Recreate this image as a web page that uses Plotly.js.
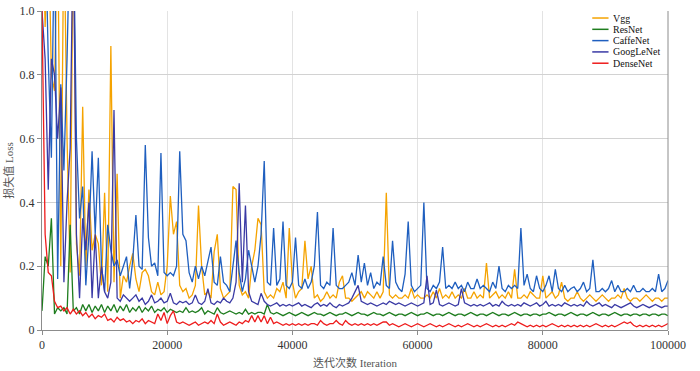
<!DOCTYPE html>
<html>
<head>
<meta charset="utf-8">
<script src="https://cdn.plot.ly/plotly-3.0.1.min.js"></script>
<style>html,body{margin:0;padding:0;background:#fff;}#chart{width:700px;height:371px;}</style>
</head>
<body>
<div id="chart"></div>
<script>
// ---- data ----
const STEP = 500;               // iteration spacing of the recorded losses
const seriesNames = ['Vgg', 'ResNet', 'CaffeNet', 'GoogLeNet', 'DenseNet'];
const seriesColors = ['#f5a300', '#1e7d1e', '#1f5fbf', '#3a3aa5', '#ee1c1c'];
const xTickVals = [0, 20000, 40000, 60000, 80000, 100000];
const xTickText = ['0', '20000', '40000', '60000', '80000', '100000'];
const yTickVals = [0, 0.2, 0.4, 0.6, 0.8, 1.0];
const yTickText = ['0', '0.2', '0.4', '0.6', '0.8', '1.0'];

const vgg = [
1.4,0.95,1.3,0.8,0.75,1.3,0.2,1.3,0.6,0.18,
1.3,0.27,0.17,0.70,0.2,0.44,0.25,0.3,0.27,0.14,
0.43,0.12,0.89,0.15,0.49,0.1,0.17,0.15,0.2,0.24,
0.16,0.12,0.18,0.19,0.17,0.12,0.11,0.15,0.11,0.12,
0.2,0.42,0.3,0.34,0.14,0.12,0.13,0.1,0.11,0.14,
0.39,0.2,0.11,0.12,0.1,0.245,0.3,0.13,0.1,0.11,
0.12,0.45,0.44,0.14,0.11,0.12,0.1,0.2,0.25,0.35,
0.33,0.12,0.1,0.11,0.1,0.13,0.12,0.15,0.1,0.32,
0.15,0.1,0.12,0.13,0.28,0.16,0.2,0.1,0.11,0.09,
0.1,0.12,0.1,0.11,0.1,0.15,0.17,0.1,0.1,0.09,
0.1,0.11,0.12,0.1,0.12,0.11,0.1,0.12,0.1,0.12,
0.43,0.11,0.1,0.11,0.1,0.1,0.11,0.1,0.13,0.1,
0.11,0.1,0.1,0.11,0.1,0.12,0.1,0.13,0.1,0.11,
0.1,0.12,0.1,0.11,0.1,0.13,0.1,0.1,0.12,0.1,
0.11,0.1,0.21,0.1,0.11,0.12,0.1,0.11,0.1,0.12,
0.1,0.19,0.1,0.1,0.11,0.1,0.12,0.11,0.1,0.1,
0.17,0.1,0.11,0.12,0.1,0.11,0.15,0.1,0.09,0.1,
0.1,0.12,0.1,0.09,0.1,0.11,0.1,0.09,0.1,0.11,
0.1,0.09,0.1,0.1,0.11,0.1,0.13,0.1,0.09,0.1,
0.1,0.09,0.1,0.11,0.1,0.09,0.1,0.1,0.09,0.1,
0.1];

const resnet = [
0.06,0.23,0.2,0.35,0.05,0.07,0.06,0.07,0.05,0.33,
0.06,0.07,0.05,0.08,0.06,0.08,0.055,0.075,0.06,0.08,
0.055,0.075,0.06,0.08,0.055,0.075,0.06,0.08,0.055,0.07,
0.06,0.075,0.055,0.07,0.06,0.075,0.055,0.065,0.06,0.07,
0.055,0.065,0.06,0.055,0.06,0.055,0.07,0.055,0.06,0.055,
0.06,0.07,0.05,0.06,0.055,0.05,0.07,0.055,0.05,0.055,
0.06,0.055,0.05,0.055,0.05,0.065,0.05,0.055,0.05,0.055,
0.055,0.05,0.08,0.055,0.05,0.055,0.05,0.045,0.05,0.055,
0.05,0.045,0.05,0.055,0.05,0.045,0.05,0.055,0.05,0.05,
0.045,0.05,0.055,0.05,0.045,0.05,0.05,0.055,0.05,0.045,
0.05,0.055,0.05,0.05,0.045,0.05,0.055,0.05,0.05,0.045,
0.05,0.055,0.05,0.045,0.05,0.05,0.045,0.05,0.055,0.05,
0.045,0.05,0.05,0.055,0.05,0.045,0.05,0.05,0.045,0.05,
0.055,0.05,0.045,0.05,0.05,0.045,0.05,0.055,0.05,0.045,
0.05,0.05,0.045,0.05,0.055,0.05,0.045,0.05,0.05,0.045,
0.05,0.055,0.05,0.045,0.05,0.05,0.045,0.05,0.05,0.045,
0.05,0.05,0.055,0.05,0.045,0.05,0.05,0.045,0.05,0.055,
0.05,0.045,0.05,0.05,0.045,0.05,0.055,0.05,0.045,0.05,
0.05,0.045,0.05,0.055,0.05,0.045,0.05,0.05,0.045,0.05,
0.05,0.045,0.05,0.05,0.045,0.05,0.05,0.045,0.05,0.05,
0.045];

const caffenet = [
1.3,1.3,0.85,0.54,1.3,0.16,0.77,0.5,0.85,1.3,
1.3,0.6,0.35,0.45,0.14,0.3,0.56,0.3,0.54,0.2,
0.12,0.33,0.25,0.2,0.22,0.17,0.2,0.23,0.13,0.22,
0.36,0.2,0.19,0.58,0.29,0.2,0.21,0.17,0.555,0.18,
0.17,0.18,0.17,0.2,0.56,0.3,0.28,0.18,0.15,0.2,
0.16,0.2,0.17,0.22,0.26,0.15,0.14,0.23,0.15,0.14,
0.12,0.2,0.28,0.18,0.12,0.16,0.25,0.2,0.15,0.2,
0.3,0.53,0.15,0.14,0.32,0.14,0.16,0.34,0.14,0.13,
0.15,0.29,0.14,0.13,0.16,0.13,0.15,0.2,0.37,0.14,
0.13,0.15,0.14,0.32,0.14,0.13,0.13,0.14,0.15,0.18,
0.14,0.235,0.15,0.21,0.14,0.18,0.13,0.15,0.14,0.23,
0.14,0.13,0.28,0.15,0.13,0.12,0.175,0.34,0.14,0.12,
0.13,0.14,0.40,0.13,0.12,0.14,0.13,0.15,0.26,0.13,
0.14,0.13,0.15,0.13,0.14,0.12,0.15,0.13,0.13,0.16,
0.13,0.14,0.13,0.12,0.15,0.13,0.2,0.13,0.12,0.14,
0.13,0.14,0.13,0.32,0.14,0.175,0.13,0.12,0.17,0.13,
0.12,0.14,0.17,0.12,0.19,0.13,0.12,0.14,0.12,0.13,
0.135,0.12,0.13,0.15,0.12,0.13,0.22,0.12,0.12,0.13,
0.12,0.13,0.155,0.12,0.14,0.12,0.12,0.13,0.12,0.14,
0.12,0.12,0.13,0.12,0.12,0.13,0.12,0.175,0.12,0.13,
0.155];

const googlenet = [
1.0,0.85,0.44,0.85,0.8,0.6,0.76,0.15,0.4,0.57,
1.3,0.3,0.1,0.35,0.25,0.4,0.1,0.3,0.1,0.2,
0.12,0.1,0.15,0.69,0.1,0.09,0.11,0.1,0.09,0.1,
0.11,0.09,0.1,0.08,0.09,0.11,0.085,0.09,0.1,0.085,
0.09,0.115,0.085,0.08,0.09,0.085,0.09,0.08,0.085,0.11,
0.085,0.08,0.09,0.13,0.085,0.08,0.09,0.085,0.1,0.09,
0.085,0.1,0.15,0.46,0.15,0.39,0.12,0.09,0.085,0.08,
0.115,0.09,0.08,0.075,0.08,0.085,0.075,0.08,0.075,0.08,
0.075,0.08,0.085,0.075,0.08,0.075,0.07,0.08,0.085,0.075,
0.08,0.075,0.085,0.075,0.07,0.08,0.075,0.08,0.085,0.1,
0.12,0.14,0.09,0.085,0.08,0.085,0.08,0.075,0.08,0.085,
0.08,0.09,0.085,0.08,0.085,0.08,0.075,0.08,0.085,0.08,
0.075,0.08,0.085,0.17,0.08,0.085,0.125,0.08,0.075,0.08,
0.085,0.08,0.075,0.08,0.13,0.085,0.08,0.075,0.08,0.075,
0.08,0.075,0.08,0.085,0.075,0.08,0.075,0.09,0.08,0.075,
0.08,0.075,0.08,0.075,0.085,0.08,0.075,0.08,0.085,0.075,
0.08,0.09,0.075,0.08,0.075,0.08,0.075,0.085,0.08,0.075,
0.08,0.075,0.08,0.075,0.09,0.08,0.075,0.08,0.085,0.075,
0.08,0.075,0.07,0.08,0.075,0.07,0.075,0.08,0.085,0.075,
0.07,0.075,0.08,0.075,0.07,0.075,0.08,0.075,0.07,0.075,
0.075];

const densenet = [
1.0,0.3,0.18,0.17,0.09,0.07,0.075,0.06,0.07,0.05,
0.065,0.05,0.06,0.045,0.055,0.04,0.05,0.035,0.045,0.04,
0.05,0.03,0.035,0.025,0.04,0.03,0.035,0.025,0.03,0.02,
0.03,0.025,0.035,0.02,0.03,0.025,0.02,0.05,0.03,0.055,
0.02,0.045,0.06,0.025,0.02,0.025,0.02,0.015,0.02,0.025,
0.015,0.02,0.025,0.02,0.03,0.02,0.05,0.025,0.015,0.02,
0.025,0.02,0.015,0.025,0.02,0.03,0.025,0.045,0.025,0.045,
0.025,0.045,0.02,0.04,0.02,0.025,0.02,0.015,0.02,0.015,
0.02,0.015,0.02,0.015,0.02,0.015,0.02,0.02,0.015,0.03,
0.02,0.015,0.02,0.02,0.03,0.02,0.015,0.03,0.02,0.015,
0.02,0.015,0.02,0.015,0.02,0.015,0.02,0.015,0.02,0.025,
0.025,0.015,0.02,0.015,0.01,0.015,0.02,0.015,0.01,0.015,
0.02,0.015,0.01,0.015,0.02,0.015,0.01,0.015,0.01,0.015,
0.02,0.015,0.01,0.015,0.01,0.015,0.02,0.015,0.01,0.015,
0.01,0.015,0.02,0.015,0.01,0.015,0.01,0.015,0.01,0.015,
0.02,0.015,0.025,0.02,0.015,0.01,0.015,0.01,0.015,0.01,
0.015,0.01,0.015,0.02,0.015,0.01,0.015,0.01,0.015,0.01,
0.015,0.01,0.015,0.01,0.015,0.01,0.015,0.02,0.015,0.01,
0.015,0.01,0.015,0.01,0.015,0.02,0.025,0.02,0.025,0.015,
0.01,0.015,0.01,0.015,0.01,0.015,0.01,0.015,0.01,0.015,
0.02];

const seriesValues = [vgg, resnet, caffenet, googlenet, densenet];

// ---- chart ----
const iterations = vgg.map((_, i) => i * STEP);
const FONT = '"Liberation Serif", "Times New Roman", "Noto Sans CJK SC", serif';

const traces = seriesValues.map((vals, k) => ({
  type: 'scatter', mode: 'lines',
  x: iterations, y: vals,
  name: seriesNames[k],
  line: {color: seriesColors[k], width: 1.3},
  showlegend: false, hoverinfo: 'skip'
}));

// compact legend (rows ~11px apart) built from the series names/colors
const legTop = 0.978, legStep = 11.3 / 319;
const shapes = [
  {type: 'line', xref: 'paper', yref: 'paper', x0: 1, x1: 1, y0: 0, y1: 1,
   line: {color: '#8c8c8c', width: 1}}
];
const annotations = [];
seriesNames.forEach((nm, k) => {
  const yy = legTop - k * legStep;
  shapes.push({type: 'line', xref: 'paper', yref: 'paper', x0: 0.879, x1: 0.905, y0: yy, y1: yy,
               line: {color: seriesColors[k], width: 1.5}});
  annotations.push({xref: 'paper', yref: 'paper', x: 0.911, y: yy, xanchor: 'left', yanchor: 'middle',
                    text: nm, showarrow: false, borderpad: 0, height: 11,
                    font: {family: FONT, size: 10, color: '#111'}});
});

const layout = {
  width: 700, height: 371,
  margin: {l: 42, r: 32, t: 11, b: 41},
  paper_bgcolor: '#fff', plot_bgcolor: '#fff',
  font: {family: FONT, size: 12, color: '#333'},
  showlegend: false,
  xaxis: {
    range: [0, 100000], tickvals: xTickVals, ticktext: xTickText,
    showline: true, linecolor: '#8c8c8c', linewidth: 1,
    ticks: 'outside', ticklen: 4, tickcolor: '#8c8c8c',
    showgrid: true, gridcolor: '#e3e3e3', gridwidth: 1, zeroline: false,
    tickfont: {family: FONT, size: 12, color: '#333'},
    title: {text: '迭代次数 Iteration', font: {family: FONT, size: 11, color: '#555'}, standoff: 7}
  },
  yaxis: {
    range: [0, 1], tickvals: yTickVals, ticktext: yTickText,
    showline: true, linecolor: '#8c8c8c', linewidth: 1,
    ticks: 'outside', ticklen: 4, tickcolor: '#8c8c8c',
    showgrid: true, gridcolor: '#d2d2d2', gridwidth: 1, zeroline: false,
    tickfont: {family: FONT, size: 12, color: '#333'},
    title: {text: '损失值 Loss', font: {family: FONT, size: 11, color: '#555'}, standoff: 3}
  },
  shapes: shapes,
  annotations: annotations
};

Plotly.newPlot('chart', traces, layout, {staticPlot: true, displayModeBar: false});
</script>
</body>
</html>
